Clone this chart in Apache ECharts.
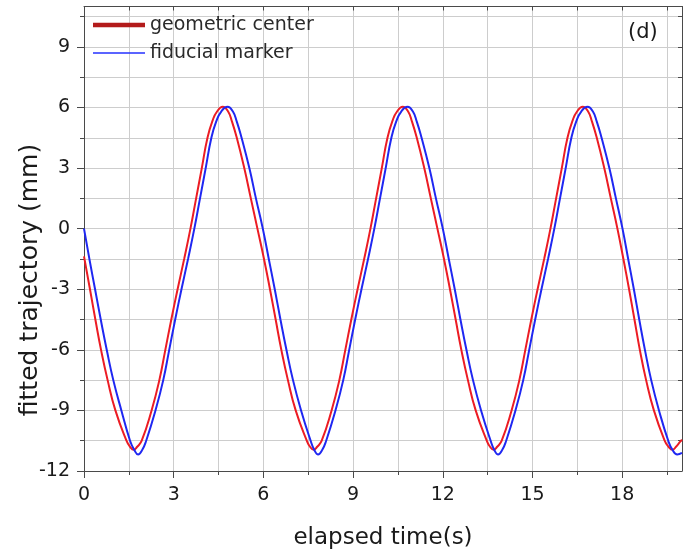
<!DOCTYPE html>
<html>
<head>
<meta charset="utf-8">
<script src="https://cdn.jsdelivr.net/npm/echarts@6/dist/echarts.min.js"></script>
<style>
html,body{margin:0;padding:0;background:#fff;}
#chart{width:694px;height:555px;}
</style>
</head>
<body>
<div id="chart"></div>
<script>
// elapsed time (s), fitted trajectory (mm)
const geometricCenter = [
[0,-1.37],[0.2,-3],[0.38,-4.5],[0.57,-6],[0.79,-7.5],[1.05,-9],[1.42,-10.5],[1.54,-10.8],[1.66,-10.95],
[1.78,-10.8],[1.93,-10.5],[2.26,-9],[2.52,-7.5],[2.72,-6],[2.92,-4.5],[3.13,-3],[3.35,-1.5],[3.56,0],[3.75,1.5],[3.94,3],[4.13,4.5],[4.3,5.35],[4.45,5.8],[4.64,6.03],
[4.82,5.8],[4.95,5.3],[5.11,4.5],[5.36,3],[5.58,1.5],[5.8,0],[6.02,-1.5],[6.22,-3],[6.41,-4.5],[6.6,-6],[6.82,-7.5],[7.08,-9],[7.45,-10.5],[7.56,-10.8],[7.68,-10.95],
[7.8,-10.8],[7.95,-10.5],[8.28,-9],[8.54,-7.5],[8.74,-6],[8.94,-4.5],[9.15,-3],[9.37,-1.5],[9.58,0],[9.77,1.5],[9.96,3],[10.15,4.5],[10.32,5.35],[10.47,5.8],[10.66,6.03],
[10.84,5.8],[10.97,5.3],[11.13,4.5],[11.38,3],[11.6,1.5],[11.82,0],[12.04,-1.5],[12.24,-3],[12.43,-4.5],[12.62,-6],[12.84,-7.5],[13.1,-9],[13.47,-10.5],[13.58,-10.8],[13.7,-10.95],
[13.82,-10.8],[13.97,-10.5],[14.3,-9],[14.56,-7.5],[14.76,-6],[14.96,-4.5],[15.17,-3],[15.39,-1.5],[15.6,0],[15.79,1.5],[15.98,3],[16.17,4.5],[16.34,5.35],[16.49,5.8],[16.68,6.03],
[16.86,5.8],[16.99,5.3],[17.15,4.5],[17.4,3],[17.62,1.5],[17.84,0],[18.04,-1.5],[18.23,-3],[18.41,-4.5],[18.59,-6],[18.8,-7.5],[19.06,-9],[19.42,-10.5],[19.55,-10.8],[19.68,-10.95],[19.8,-10.8],[19.94,-10.55],[20,-10.45]
];
const fiducialMarker = [
[0,0],[0.18,-1.5],[0.37,-3],[0.56,-4.5],[0.76,-6],[0.98,-7.5],[1.25,-9],[1.54,-10.5],[1.68,-10.95],[1.81,-11.18],
[1.95,-10.95],[2.08,-10.5],[2.39,-9],[2.65,-7.5],[2.85,-6],[3.05,-4.5],[3.26,-3],[3.48,-1.5],[3.69,0],[3.88,1.5],[4.07,3],[4.26,4.5],[4.42,5.3],[4.59,5.8],[4.8,6.03],
[4.98,5.8],[5.11,5.3],[5.27,4.5],[5.53,3],[5.75,1.5],[5.98,0],[6.18,-1.5],[6.38,-3],[6.57,-4.5],[6.77,-6],[6.99,-7.5],[7.26,-9],[7.58,-10.5],[7.7,-10.95],[7.83,-11.18],
[7.97,-10.95],[8.1,-10.5],[8.41,-9],[8.67,-7.5],[8.87,-6],[9.07,-4.5],[9.28,-3],[9.5,-1.5],[9.71,0],[9.9,1.5],[10.09,3],[10.28,4.5],[10.44,5.3],[10.61,5.8],[10.82,6.03],
[11,5.8],[11.13,5.3],[11.29,4.5],[11.55,3],[11.77,1.5],[12,0],[12.2,-1.5],[12.4,-3],[12.59,-4.5],[12.79,-6],[13.01,-7.5],[13.28,-9],[13.6,-10.5],[13.72,-10.95],[13.85,-11.18],
[13.99,-10.95],[14.12,-10.5],[14.43,-9],[14.69,-7.5],[14.89,-6],[15.09,-4.5],[15.3,-3],[15.52,-1.5],[15.73,0],[15.92,1.5],[16.11,3],[16.3,4.5],[16.46,5.3],[16.63,5.8],[16.84,6.03],
[17.02,5.8],[17.15,5.3],[17.31,4.5],[17.57,3],[17.79,1.5],[18.01,0],[18.2,-1.5],[18.39,-3],[18.57,-4.5],[18.76,-6],[18.97,-7.5],[19.23,-9],[19.54,-10.5],[19.68,-10.95],[19.84,-11.18],[20,-11.1]
];
const xTickLabels = [0, 3, 6, 9, 12, 15, 18];
const yTickLabels = [-12, -9, -6, -3, 0, 3, 6, 9];
const seriesNames = ['geometric center', 'fiducial marker'];

const FONT = 'DejaVu Sans';
const AX = '#4a4a4a';
const TXT = '#1a1a1a';
const GRIDC = '#cdcdcd';
const X_MIN = 0, X_MAX = 20, Y_MIN = -12, Y_MAX = 11;

function isIn(arr, v) { return arr.some(a => Math.abs(a - v) < 1e-6); }

const chart = echarts.init(document.getElementById('chart'), null, {renderer: 'canvas'});
chart.setOption({
  backgroundColor: '#ffffff',
  animation: false,
  grid: {left: 84, right: 12, top: 6.5, bottom: 83, containLabel: false},
  legend: {
    orient: 'vertical', left: 88, top: 10,
    itemWidth: 52, itemHeight: 14, itemGap: 8,
    textStyle: {fontFamily: FONT, fontSize: 19, color: '#2a2a2a', lineHeight: 20},
    data: [
      {name: seriesNames[0], icon: 'path://M0,0H12V1H0Z', itemStyle: {color: '#b31b1b'}},
      {name: seriesNames[1], icon: 'path://M0,0H36V1H0Z', itemStyle: {color: '#2430ff'}}
    ]
  },
  graphic: [
    {type: 'text', left: 628, top: 22, style: {text: '(d)', font: '21px "DejaVu Sans"', fill: TXT}},
    {type: 'text', x: 30, y: 280, rotation: Math.PI / 2,
     style: {text: 'fitted trajectory (mm)', font: '25px "DejaVu Sans"', fill: TXT, align: 'center', verticalAlign: 'middle'}}
  ],
  xAxis: [
    {
      type: 'value', position: 'bottom', min: X_MIN, max: X_MAX, interval: 1.5,
      axisLine: {onZero: false, lineStyle: {color: AX, width: 1}},
      axisTick: {show: true, inside: false, length: 4, lineStyle: {color: AX}},
      axisLabel: {margin: 15, fontFamily: FONT, fontSize: 19, color: TXT, showMaxLabel: false,
        formatter: v => isIn(xTickLabels, v) ? String(v) : ''},
      splitLine: {show: true, lineStyle: {color: GRIDC, width: 1}},
      name: 'elapsed time(s)', nameLocation: 'middle', nameGap: 56,
      nameTextStyle: {fontFamily: FONT, fontSize: 23, color: TXT}
    },
    {
      type: 'value', position: 'bottom', min: X_MIN, max: X_MAX, interval: 3,
      axisLine: {show: false, onZero: false},
      axisTick: {show: true, length: 7, lineStyle: {color: AX}, customValues: xTickLabels},
      axisLabel: {show: false}, splitLine: {show: false}
    },
    {
      type: 'value', position: 'top', min: X_MIN, max: X_MAX, interval: 1.5,
      axisLine: {show: true, onZero: false, lineStyle: {color: AX, width: 1}},
      axisTick: {show: true, inside: true, length: 4, lineStyle: {color: AX}},
      axisLabel: {show: false}, splitLine: {show: false}
    }
  ],
  yAxis: [
    {
      type: 'value', position: 'left', min: Y_MIN, max: Y_MAX, interval: 1.5,
      axisLine: {show: true, onZero: false, lineStyle: {color: AX, width: 1}},
      axisTick: {show: true, inside: false, length: 4, lineStyle: {color: AX}},
      axisLabel: {margin: 14, fontFamily: FONT, fontSize: 19, color: TXT, showMaxLabel: false,
        formatter: v => isIn(yTickLabels, v) ? String(v) : ''},
      splitLine: {show: true, lineStyle: {color: GRIDC, width: 1}}
    },
    {
      type: 'value', position: 'left', min: Y_MIN, max: Y_MAX, interval: 3,
      axisLine: {show: false, onZero: false},
      axisTick: {show: true, length: 7, lineStyle: {color: AX}, customValues: yTickLabels},
      axisLabel: {show: false}, splitLine: {show: false}
    },
    {
      type: 'value', position: 'right', min: Y_MIN, max: Y_MAX, interval: 1.5,
      axisLine: {show: true, onZero: false, lineStyle: {color: AX, width: 1}},
      axisTick: {show: true, inside: true, length: 4, lineStyle: {color: AX}},
      axisLabel: {show: false}, splitLine: {show: false}
    }
  ],
  series: [
    {
      name: seriesNames[0], type: 'line', xAxisIndex: 0, yAxisIndex: 0,
      data: geometricCenter, symbol: 'none', smooth: 0.5,
      lineStyle: {color: '#ec1c24', width: 2}, itemStyle: {color: '#ec1c24'}, z: 3
    },
    {
      name: seriesNames[1], type: 'line', xAxisIndex: 0, yAxisIndex: 0,
      data: fiducialMarker, symbol: 'none', smooth: 0.5,
      lineStyle: {color: '#1f27f2', width: 2}, itemStyle: {color: '#1f27f2'}, z: 4
    }
  ]
});
</script>
</body>
</html>
